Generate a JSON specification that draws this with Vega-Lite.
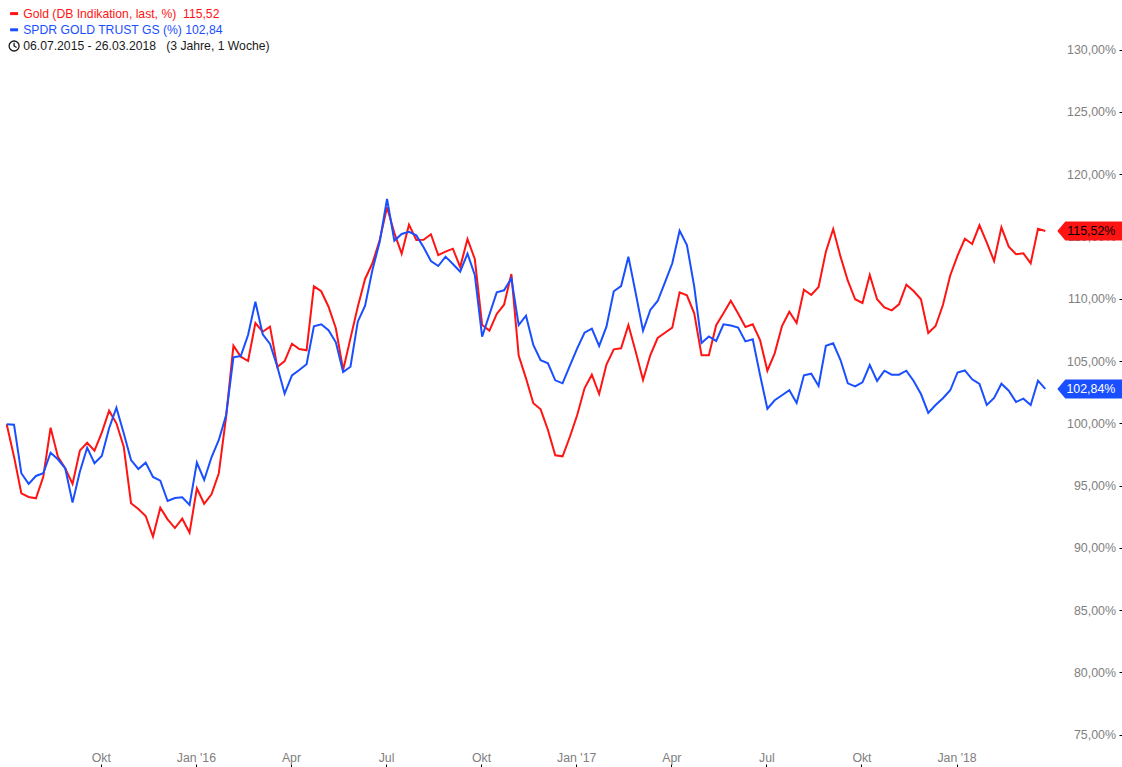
{
  "$schema": "https://vega.github.io/schema/vega-lite/v6.json",
  "description": "Gold vs SPDR Gold Trust, indexed",
  "width": 1122,
  "height": 767,
  "padding": 0,
  "autosize": { "type": "none" },
  "background": "#ffffff",
  "config": {
    "view": { "stroke": null }
  },
  "datasets": {
    "gold": [
      {"date":"2015-07-06","value":100.0},{"date":"2015-07-13","value":97.4},{"date":"2015-07-20","value":94.46},{"date":"2015-07-27","value":94.16},{"date":"2015-08-03","value":94.06},{"date":"2015-08-10","value":95.79},{"date":"2015-08-17","value":99.73},{"date":"2015-08-24","value":97.4},{"date":"2015-08-31","value":96.47},{"date":"2015-09-07","value":95.21},{"date":"2015-09-14","value":97.88},{"date":"2015-09-21","value":98.52},{"date":"2015-09-28","value":97.88},
      {"date":"2015-10-05","value":99.33},{"date":"2015-10-12","value":101.09},{"date":"2015-10-19","value":100.08},{"date":"2015-10-26","value":98.2},{"date":"2015-11-02","value":93.66},{"date":"2015-11-09","value":93.2},{"date":"2015-11-16","value":92.64},{"date":"2015-11-23","value":90.98},{"date":"2015-11-30","value":93.3},{"date":"2015-12-07","value":92.37},{"date":"2015-12-14","value":91.67},{"date":"2015-12-21","value":92.42},{"date":"2015-12-28","value":91.3},
      {"date":"2016-01-04","value":94.86},{"date":"2016-01-11","value":93.62},{"date":"2016-01-18","value":94.38},{"date":"2016-01-25","value":96.07},{"date":"2016-02-01","value":100.61},{"date":"2016-02-08","value":106.31},{"date":"2016-02-15","value":105.43},{"date":"2016-02-22","value":105.08},{"date":"2016-02-29","value":108.13},{"date":"2016-03-07","value":107.43},{"date":"2016-03-14","value":107.84},{"date":"2016-03-21","value":104.6},{"date":"2016-03-28","value":105.08},
      {"date":"2016-04-04","value":106.47},{"date":"2016-04-11","value":106.05},{"date":"2016-04-18","value":105.94},{"date":"2016-04-25","value":111.08},{"date":"2016-05-02","value":110.68},{"date":"2016-05-09","value":109.44},{"date":"2016-05-16","value":107.71},{"date":"2016-05-23","value":104.36},{"date":"2016-05-30","value":106.9},{"date":"2016-06-06","value":109.44},{"date":"2016-06-13","value":111.67},{"date":"2016-06-20","value":112.93},{"date":"2016-06-27","value":114.8},
      {"date":"2016-07-04","value":117.42},{"date":"2016-07-11","value":115.36},{"date":"2016-07-18","value":113.7},{"date":"2016-07-25","value":116.03},{"date":"2016-08-01","value":114.8},{"date":"2016-08-08","value":114.82},{"date":"2016-08-15","value":115.26},{"date":"2016-08-22","value":113.59},{"date":"2016-08-29","value":113.86},{"date":"2016-09-05","value":114.1},{"date":"2016-09-12","value":112.63},{"date":"2016-09-19","value":114.88},{"date":"2016-09-26","value":113.27},
      {"date":"2016-10-03","value":107.97},{"date":"2016-10-10","value":107.52},{"date":"2016-10-17","value":108.86},{"date":"2016-10-24","value":109.6},{"date":"2016-10-31","value":112.07},{"date":"2016-11-07","value":105.51},{"date":"2016-11-14","value":103.69},{"date":"2016-11-21","value":101.69},{"date":"2016-11-28","value":101.2},{"date":"2016-12-05","value":99.54},{"date":"2016-12-12","value":97.51},{"date":"2016-12-19","value":97.43},{"date":"2016-12-26","value":99.0},
      {"date":"2017-01-02","value":100.75},{"date":"2017-01-09","value":102.89},{"date":"2017-01-16","value":103.98},{"date":"2017-01-23","value":102.43},{"date":"2017-01-30","value":104.79},{"date":"2017-02-06","value":106.02},{"date":"2017-02-13","value":106.1},{"date":"2017-02-20","value":107.97},{"date":"2017-02-27","value":105.83},{"date":"2017-03-06","value":103.56},{"date":"2017-03-13","value":105.56},{"date":"2017-03-20","value":106.93},{"date":"2017-03-27","value":107.35},
      {"date":"2017-04-03","value":107.76},{"date":"2017-04-10","value":110.6},{"date":"2017-04-17","value":110.36},{"date":"2017-04-24","value":108.91},{"date":"2017-05-01","value":105.54},{"date":"2017-05-08","value":105.54},{"date":"2017-05-15","value":107.96},{"date":"2017-05-22","value":108.91},{"date":"2017-05-29","value":109.92},{"date":"2017-06-05","value":108.9},{"date":"2017-06-12","value":107.81},{"date":"2017-06-19","value":108.03},{"date":"2017-06-26","value":106.77},
      {"date":"2017-07-03","value":104.3},{"date":"2017-07-10","value":105.7},{"date":"2017-07-17","value":107.89},{"date":"2017-07-24","value":109.04},{"date":"2017-07-31","value":108.13},{"date":"2017-08-07","value":110.81},{"date":"2017-08-14","value":110.38},{"date":"2017-08-21","value":111.02},{"date":"2017-08-28","value":113.86},{"date":"2017-09-04","value":115.68},{"date":"2017-09-11","value":113.46},{"date":"2017-09-18","value":111.53},{"date":"2017-09-25","value":110.04},
      {"date":"2017-10-02","value":109.74},{"date":"2017-10-09","value":111.99},{"date":"2017-10-16","value":110.04},{"date":"2017-10-23","value":109.39},{"date":"2017-10-30","value":109.15},{"date":"2017-11-06","value":109.63},{"date":"2017-11-13","value":111.21},{"date":"2017-11-20","value":110.7},{"date":"2017-11-27","value":110.04},{"date":"2017-12-04","value":107.33},{"date":"2017-12-11","value":107.89},{"date":"2017-12-18","value":109.58},{"date":"2017-12-25","value":111.95},
      {"date":"2018-01-01","value":113.54},{"date":"2018-01-08","value":114.9},{"date":"2018-01-15","value":114.48},{"date":"2018-01-22","value":115.98},{"date":"2018-01-29","value":114.58},{"date":"2018-02-05","value":113.11},{"date":"2018-02-12","value":115.82},{"date":"2018-02-19","value":114.26},{"date":"2018-02-26","value":113.65},{"date":"2018-03-05","value":113.73},{"date":"2018-03-12","value":112.93},{"date":"2018-03-19","value":115.7},{"date":"2018-03-26","value":115.52}
    ],
    "spdr": [
      {"date":"2015-07-06","value":100.0},{"date":"2015-07-13","value":99.97},{"date":"2015-07-20","value":96.07},{"date":"2015-07-27","value":95.21},{"date":"2015-08-03","value":95.85},{"date":"2015-08-10","value":96.07},{"date":"2015-08-17","value":97.72},{"date":"2015-08-24","value":97.19},{"date":"2015-08-31","value":96.47},{"date":"2015-09-07","value":93.71},{"date":"2015-09-14","value":96.19},{"date":"2015-09-21","value":98.12},{"date":"2015-09-28","value":96.87},
      {"date":"2015-10-05","value":97.45},{"date":"2015-10-12","value":99.68},{"date":"2015-10-19","value":101.33},{"date":"2015-10-26","value":99.28},{"date":"2015-11-02","value":97.13},{"date":"2015-11-09","value":96.41},{"date":"2015-11-16","value":96.92},{"date":"2015-11-23","value":95.77},{"date":"2015-11-30","value":95.47},{"date":"2015-12-07","value":93.84},{"date":"2015-12-14","value":94.08},{"date":"2015-12-21","value":94.14},{"date":"2015-12-28","value":93.52},
      {"date":"2016-01-04","value":96.92},{"date":"2016-01-11","value":95.53},{"date":"2016-01-18","value":97.35},{"date":"2016-01-25","value":98.74},{"date":"2016-02-01","value":100.75},{"date":"2016-02-08","value":105.38},{"date":"2016-02-15","value":105.48},{"date":"2016-02-22","value":107.17},{"date":"2016-02-29","value":109.84},{"date":"2016-03-07","value":107.23},{"date":"2016-03-14","value":106.45},{"date":"2016-03-21","value":104.62},{"date":"2016-03-28","value":102.46},
      {"date":"2016-04-04","value":103.93},{"date":"2016-04-11","value":104.36},{"date":"2016-04-18","value":104.82},{"date":"2016-04-25","value":107.87},{"date":"2016-05-02","value":108.03},{"date":"2016-05-09","value":107.55},{"date":"2016-05-16","value":106.58},{"date":"2016-05-23","value":104.2},{"date":"2016-05-30","value":104.62},{"date":"2016-06-06","value":108.24},{"date":"2016-06-13","value":109.52},{"date":"2016-06-20","value":112.39},{"date":"2016-06-27","value":114.66},
      {"date":"2016-07-04","value":118.09},{"date":"2016-07-11","value":114.74},{"date":"2016-07-18","value":115.28},{"date":"2016-07-25","value":115.46},{"date":"2016-08-01","value":115.17},{"date":"2016-08-08","value":114.21},{"date":"2016-08-15","value":113.11},{"date":"2016-08-22","value":112.71},{"date":"2016-08-29","value":113.46},{"date":"2016-09-05","value":112.87},{"date":"2016-09-12","value":112.25},{"date":"2016-09-19","value":113.7},{"date":"2016-09-26","value":111.99},
      {"date":"2016-10-03","value":107.03},{"date":"2016-10-10","value":108.82},{"date":"2016-10-17","value":110.59},{"date":"2016-10-24","value":110.76},{"date":"2016-10-31","value":111.72},{"date":"2016-11-07","value":107.97},{"date":"2016-11-14","value":108.72},{"date":"2016-11-21","value":106.37},{"date":"2016-11-28","value":105.14},{"date":"2016-12-05","value":104.9},{"date":"2016-12-12","value":103.53},{"date":"2016-12-19","value":103.29},{"date":"2016-12-26","value":104.71},
      {"date":"2017-01-02","value":106.1},{"date":"2017-01-09","value":107.35},{"date":"2017-01-16","value":107.68},{"date":"2017-01-23","value":106.29},{"date":"2017-01-30","value":107.84},{"date":"2017-02-06","value":110.68},{"date":"2017-02-13","value":111.1},{"date":"2017-02-20","value":113.46},{"date":"2017-02-27","value":110.52},{"date":"2017-03-06","value":107.52},{"date":"2017-03-13","value":109.18},{"date":"2017-03-20","value":109.9},{"date":"2017-03-27","value":111.4},
      {"date":"2017-04-03","value":112.93},{"date":"2017-04-10","value":115.54},{"date":"2017-04-17","value":114.4},{"date":"2017-04-24","value":111.05},{"date":"2017-05-01","value":106.53},{"date":"2017-05-08","value":107.05},{"date":"2017-05-15","value":106.69},{"date":"2017-05-22","value":108.03},{"date":"2017-05-29","value":107.93},{"date":"2017-06-05","value":107.77},{"date":"2017-06-12","value":106.66},{"date":"2017-06-19","value":106.82},{"date":"2017-06-26","value":103.96},
      {"date":"2017-07-03","value":101.25},{"date":"2017-07-10","value":101.93},{"date":"2017-07-17","value":102.33},{"date":"2017-07-24","value":102.73},{"date":"2017-07-31","value":101.71},{"date":"2017-08-07","value":103.93},{"date":"2017-08-14","value":104.06},{"date":"2017-08-21","value":103.08},{"date":"2017-08-28","value":106.31},{"date":"2017-09-04","value":106.5},{"date":"2017-09-11","value":105.16},{"date":"2017-09-18","value":103.29},{"date":"2017-09-25","value":103.05},
      {"date":"2017-10-02","value":103.37},{"date":"2017-10-09","value":104.76},{"date":"2017-10-16","value":103.48},{"date":"2017-10-23","value":104.3},{"date":"2017-10-30","value":103.98},{"date":"2017-11-06","value":103.98},{"date":"2017-11-13","value":104.3},{"date":"2017-11-20","value":103.48},{"date":"2017-11-27","value":102.43},{"date":"2017-12-04","value":100.91},{"date":"2017-12-11","value":101.55},{"date":"2017-12-18","value":102.09},{"date":"2017-12-25","value":102.73},
      {"date":"2018-01-01","value":104.16},{"date":"2018-01-08","value":104.32},{"date":"2018-01-15","value":103.61},{"date":"2018-01-22","value":103.24},{"date":"2018-01-29","value":101.55},{"date":"2018-02-05","value":102.11},{"date":"2018-02-12","value":103.26},{"date":"2018-02-19","value":102.7},{"date":"2018-02-26","value":101.79},{"date":"2018-03-05","value":102.06},{"date":"2018-03-12","value":101.55},{"date":"2018-03-19","value":103.5},{"date":"2018-03-26","value":102.84}
    ]
  },
  "data": { "name": "gold" },
  "transform": [
    { "calculate": "'Gold'", "as": "series" }
  ],
  "encoding": {
    "x": {
      "field": "date",
      "type": "temporal",
      "title": null,
      "scale": {
        "type": "utc",
        "domain": [
          { "year": 2015, "month": 6, "date": 29, "hours": 14, "utc": true },
          { "year": 2018, "month": 6, "date": 7, "hours": 9, "minutes": 36, "utc": true }
        ]
      },
      "axis": {
        "orient": "bottom",
        "offset": -3,
        "domain": false,
        "grid": false,
        "tickSize": 3,
        "tickOffset": -1,
        "tickColor": "#000000",
        "tickWidth": 1,
        "labelFont": "Liberation Sans",
        "labelFontSize": 12.3,
        "labelColor": "#808080",
        "labelBaseline": "alphabetic",
        "labelPadding": -6,
        "labelFlush": false,
        "labelOverlap": false,
        "values": [
          { "year": 2015, "month": 10, "date": 5, "utc": true },
          { "year": 2016, "month": 1, "date": 4, "utc": true },
          { "year": 2016, "month": 4, "date": 4, "utc": true },
          { "year": 2016, "month": 7, "date": 4, "utc": true },
          { "year": 2016, "month": 10, "date": 3, "utc": true },
          { "year": 2017, "month": 1, "date": 2, "utc": true },
          { "year": 2017, "month": 4, "date": 3, "utc": true },
          { "year": 2017, "month": 7, "date": 3, "utc": true },
          { "year": 2017, "month": 10, "date": 2, "utc": true },
          { "year": 2018, "month": 1, "date": 1, "utc": true }
        ],
        "labelExpr": "utcmonth(datum.value) == 0 ? \"Jan '\" + utcFormat(datum.value, '%y') : utcmonth(datum.value) == 3 ? 'Apr' : utcmonth(datum.value) == 6 ? 'Jul' : 'Okt'"
      }
    },
    "y": {
      "field": "value",
      "type": "quantitative",
      "title": null,
      "scale": { "domain": [72.48, 134.07], "nice": false, "zero": false },
      "axis": {
        "orient": "left",
        "offset": -1122,
        "domain": false,
        "grid": false,
        "tickSize": 3,
        "tickOffset": -1,
        "tickColor": "#000000",
        "tickWidth": 1,
        "labelFont": "Liberation Sans",
        "labelFontSize": 12.4,
        "labelColor": "#808080",
        "labelPadding": 3.5,
        "labelOverlap": false,
        "values": [75, 80, 85, 90, 95, 100, 105, 110, 115, 120, 125, 130],
        "labelExpr": "replace(format(datum.value, '.2f'), '.', ',') + '%'"
      }
    }
  },
  "layer": [
    {
      "mark": { "type": "line", "strokeWidth": 2, "interpolate": "linear" },
      "encoding": {
        "color": {
          "field": "series",
          "type": "nominal",
          "scale": {
            "domain": ["Gold", "SPDR GOLD TRUST GS", "Zeitraum"],
            "range": ["#ff1414", "#1a4fff", "#1a1a1a"]
          },
          "legend": {
            "orient": "none",
            "legendX": 8,
            "legendY": 7.5,
            "title": null,
            "padding": 0,
            "symbolSize": 100,
            "gridAlign": "all",
            "rowPadding": 0.2,
            "labelOffset": 3,
            "labelFont": "Liberation Sans",
            "labelFontSize": 12.2,
            "labelLimit": 400,
            "labelExpr": "datum.label == 'Gold' ? 'Gold (DB Indikation, last, %)\u00a0\u00a0115,52' : datum.label == 'Zeitraum' ? '06.07.2015 - 26.03.2018\u00a0\u00a0\u00a0(3 Jahre, 1 Woche)' : 'SPDR GOLD TRUST GS (%)\u00a0102,84'",
            "encoding": {
              "labels": {
                "fill": { "value": { "expr": "datum.value == 'Gold' ? '#ff1414' : datum.value == 'Zeitraum' ? '#1a1a1a' : '#1a4fff'" } }
              },
              "symbols": {
                "shape": { "value": { "expr": "datum.value == 'Zeitraum' ? 'M-1,0A1,1 0 1 1 1,0A1,1 0 1 1 -1,0M0,-0.65L0,0L0.5,0.3' : 'M-0.8,0L0.8,0'" } },
                "strokeWidth": { "value": { "expr": "datum.value == 'Zeitraum' ? 1.3 : 3" } },
                "stroke": { "value": { "expr": "datum.value == 'Gold' ? '#ff1414' : datum.value == 'Zeitraum' ? '#1a1a1a' : '#1a4fff'" } },
                "fill": { "value": "transparent" }
              }
            }
          }
        }
      }
    },
    {
      "data": { "name": "spdr" },
      "transform": [
        { "calculate": "'SPDR GOLD TRUST GS'", "as": "series" }
      ],
      "mark": { "type": "line", "strokeWidth": 2, "interpolate": "linear" },
      "encoding": {
        "color": { "field": "series", "type": "nominal", "legend": null }
      }
    },
    {
      "transform": [
        { "filter": "utcFormat(datum.date, '%Y-%m-%d') == '2018-03-26'" },
        { "calculate": "replace(format(datum.value, '.2f'), '.', ',') + '%'", "as": "tag" }
      ],
      "layer": [
        {
          "mark": { "type": "point", "filled": true, "opacity": 1, "size": 4, "color": "#ff1414", "shape": "M12,0L20,-9.5L77,-9.5L77,9.5L20,9.5Z" }
        },
        {
          "mark": { "type": "text", "align": "right", "dx": 70, "font": "Liberation Sans", "fontSize": 12.4, "color": "#000000" },
          "encoding": {
            "text": { "field": "tag" }
          }
        }
      ]
    },
    {
      "data": { "name": "spdr" },
      "transform": [
        { "filter": "utcFormat(datum.date, '%Y-%m-%d') == '2018-03-26'" },
        { "calculate": "replace(format(datum.value, '.2f'), '.', ',') + '%'", "as": "tag" }
      ],
      "layer": [
        {
          "mark": { "type": "point", "filled": true, "opacity": 1, "size": 4, "color": "#1a4fff", "shape": "M12,0L20,-9.5L77,-9.5L77,9.5L20,9.5Z" }
        },
        {
          "mark": { "type": "text", "align": "right", "dx": 70, "font": "Liberation Sans", "fontSize": 12.4, "color": "#ffffff" },
          "encoding": {
            "text": { "field": "tag" }
          }
        }
      ]
    }
  ]
}
